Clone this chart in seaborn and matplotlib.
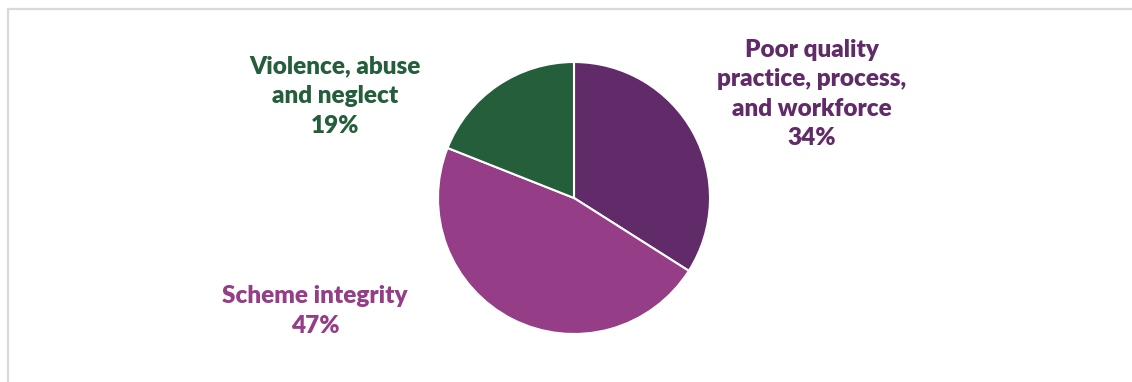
import matplotlib
matplotlib.use("Agg")
import matplotlib.pyplot as plt
import seaborn as sns
from matplotlib.patches import Rectangle

categories = ["Poor quality\npractice, process,\nand workforce", "Scheme integrity", "Violence, abuse\nand neglect"]
values = [34, 47, 19]
colors = ["#612a69", "#953d86", "#255e3b"]

sns.set_theme(style="white")
plt.rcParams['font.family'] = ['Lato', 'DejaVu Sans']

W, H = 1132, 382
fig = plt.figure(figsize=(W / 100, H / 100), dpi=100)
ax = fig.add_axes([0, 0, 1, 1])
ax.axis("off")

palette = sns.color_palette(colors)
ax.pie(values, colors=palette, startangle=90, counterclock=False,
       center=(574, H - 198), radius=136,
       wedgeprops=dict(edgecolor="white", linewidth=1.5))
ax.set_xlim(0, W)
ax.set_ylim(0, H)
ax.set_aspect("equal")

label_pos = [(812, 94), (315, 311), (335, 96)]
for cat, val, col, (px, py) in zip(categories, values, palette, label_pos):
    ax.text(px, H - py, f"{cat}\n{val}%", ha="center", va="center",
            fontsize=17.5, fontweight="heavy", color=col, linespacing=1.42)

fig.patches.append(Rectangle((7.5 / W, -0.1), 1.2, (H - 8.5) / H + 0.1,
                             transform=fig.transFigure, fill=False,
                             edgecolor="#d9d9d9", linewidth=1.6))

fig.savefig("out.png", dpi=100)
